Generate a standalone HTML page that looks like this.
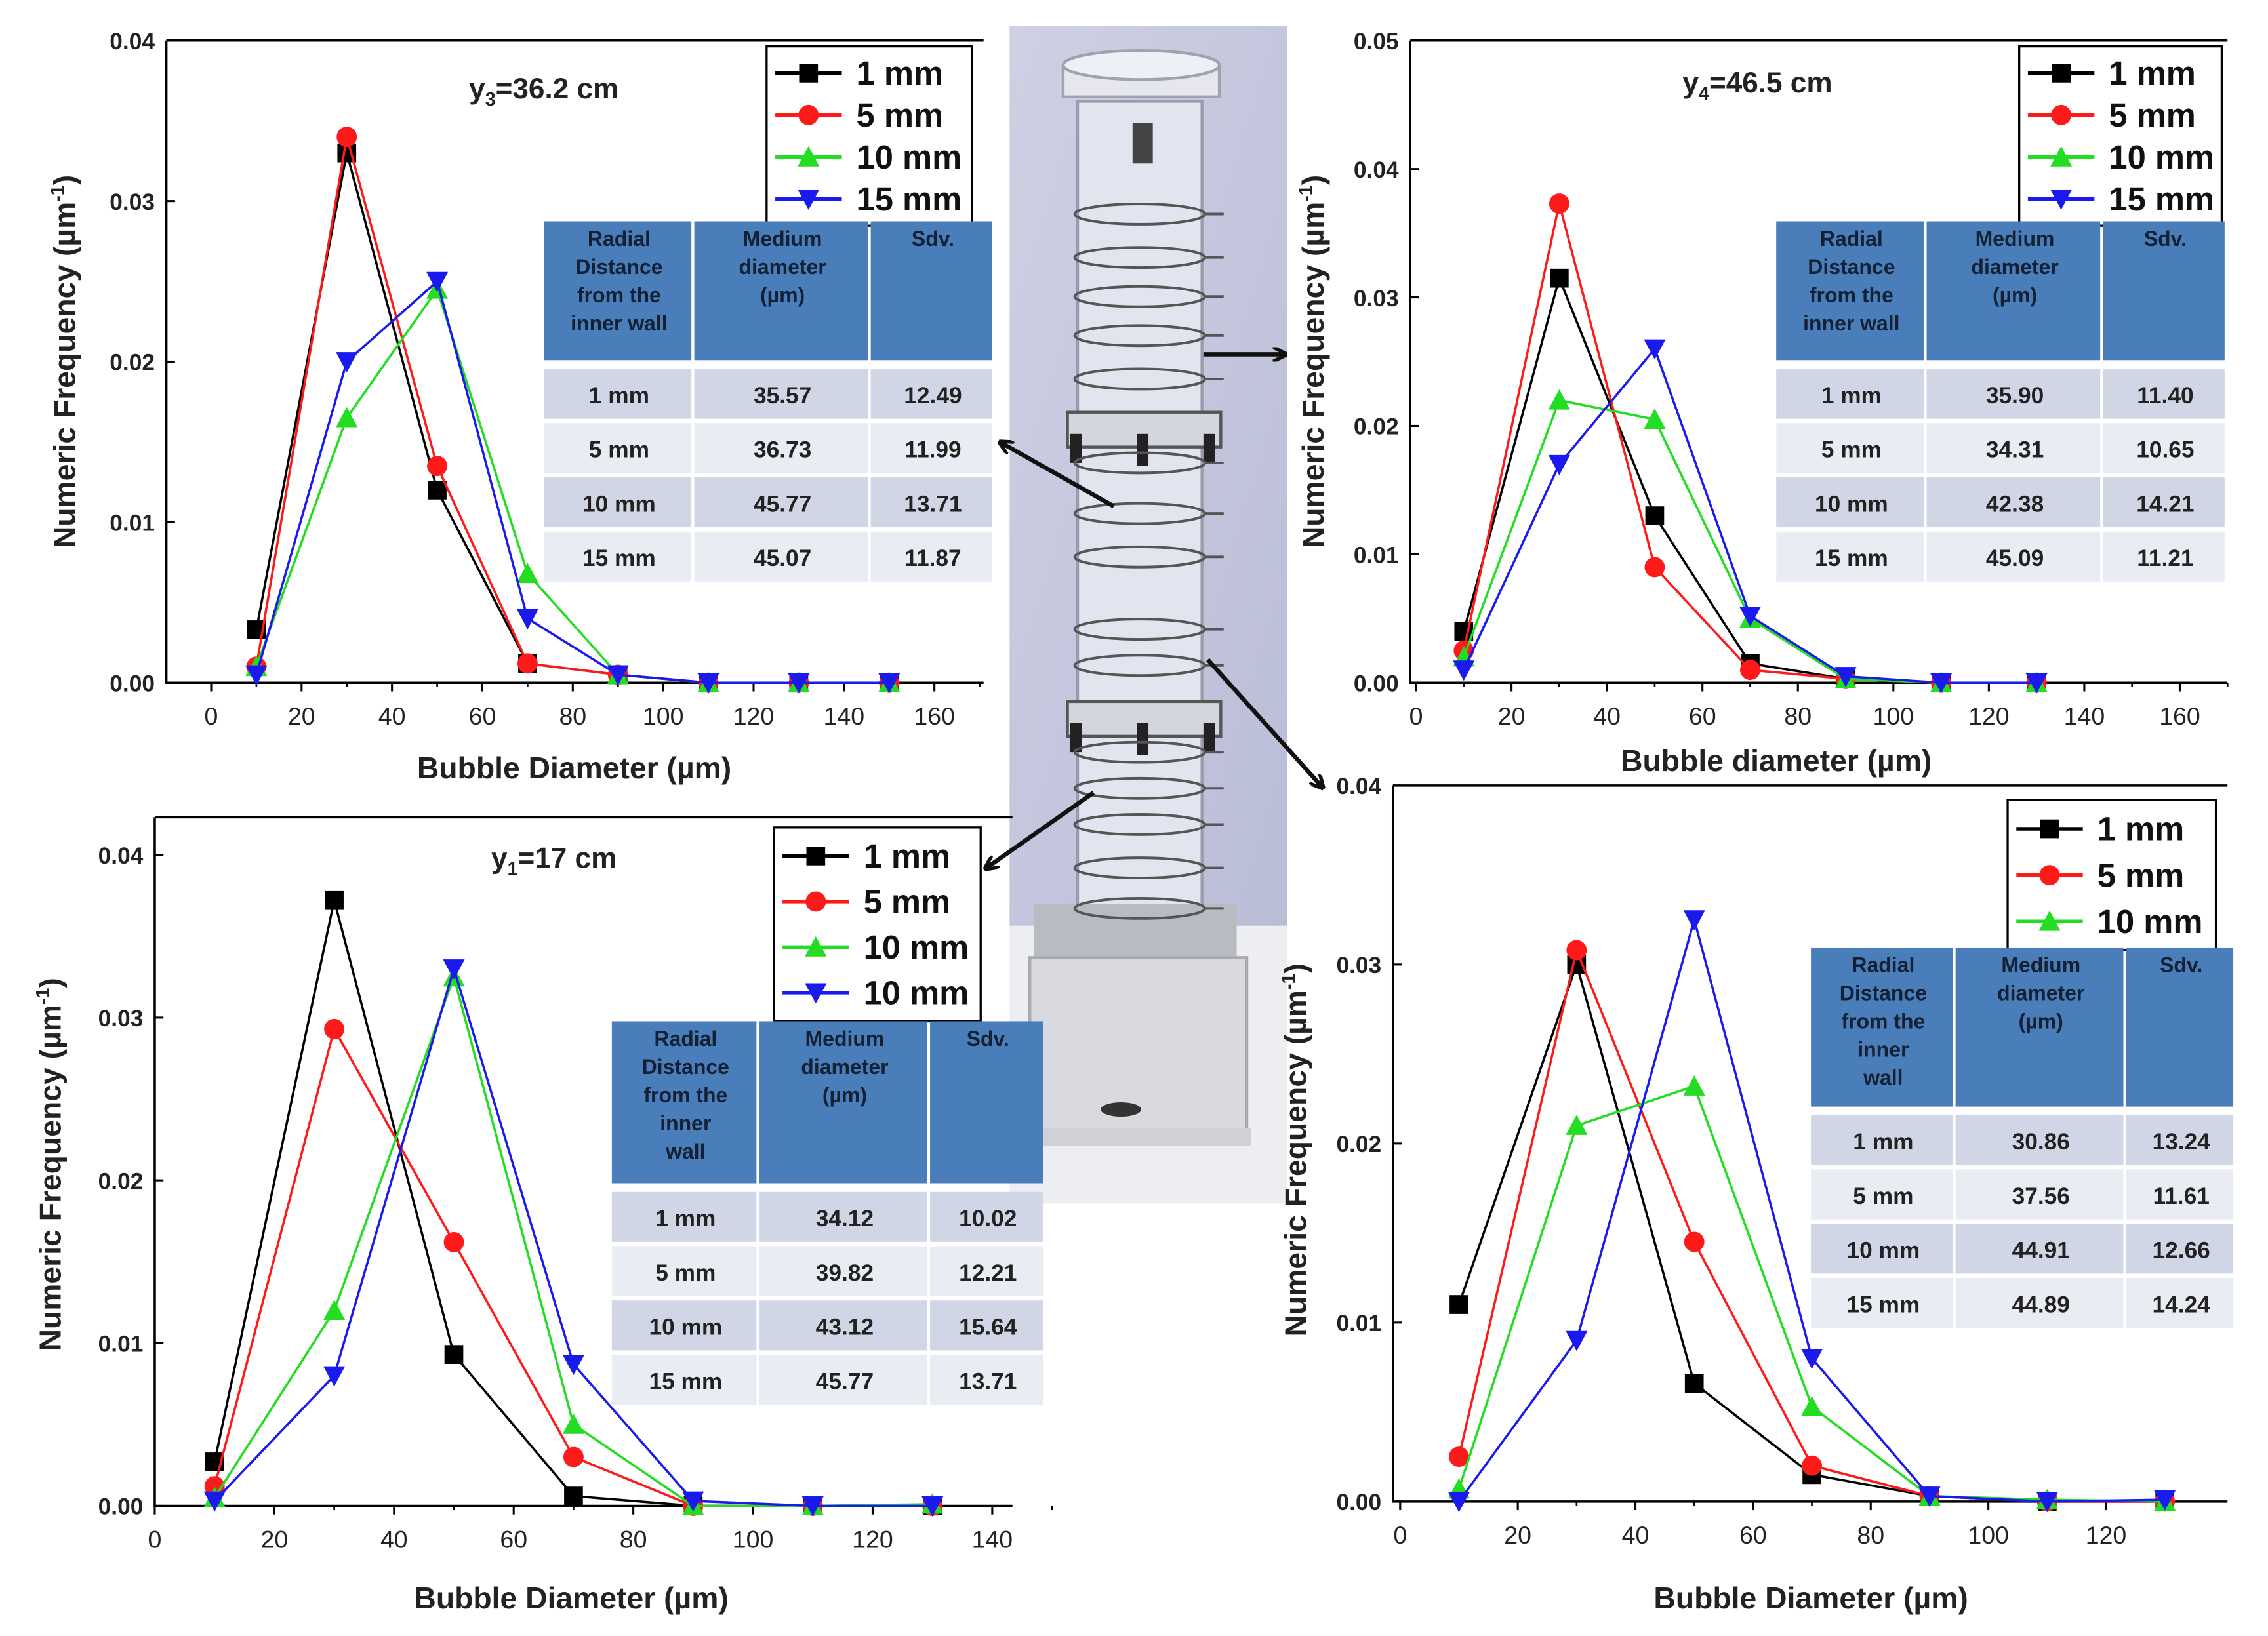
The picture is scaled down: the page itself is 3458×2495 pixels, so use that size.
<!DOCTYPE html>
<html><head><meta charset="utf-8"><style>
html,body{margin:0;padding:0;background:#fff;}
svg{display:block;}
text{font-family:"Liberation Sans",Arial,sans-serif;}
</style></head><body>
<svg id="fig" width="3458" height="2495" viewBox="0 0 1568 1131" preserveAspectRatio="none" xmlns="http://www.w3.org/2000/svg">
<defs>
<linearGradient id="bg" x1="0" y1="0" x2="1" y2="1"><stop offset="0" stop-color="#cfd0e4"/><stop offset="1" stop-color="#b9bdd6"/></linearGradient>
<marker id="ah" markerWidth="10" markerHeight="10" refX="8" refY="5" orient="auto" markerUnits="userSpaceOnUse"><path d="M0,0 L10,5 L0,10" fill="none" stroke="#111" stroke-width="2.5"/></marker>
</defs>
<rect width="1568" height="1131" fill="#fff"/>
<g id="photo">
<rect x="698" y="18" width="192" height="622" fill="url(#bg)"/>
<rect x="698" y="640" width="192" height="192" fill="#eceef2"/>
<rect x="745" y="70" width="86" height="590" fill="#e2e5f0" stroke="#9a9cab" stroke-width="2"/>
<rect x="735" y="45" width="108" height="22" fill="#e6e7ee" stroke="#a0a2b0" stroke-width="2"/>
<ellipse cx="789" cy="45" rx="54" ry="10" fill="#eef0f5" stroke="#a0a2b0" stroke-width="2"/>
<rect x="783" y="85" width="14" height="28" fill="#444"/>
<rect x="738" y="285" width="106" height="24" fill="#d4d6de" stroke="#555" stroke-width="2"/>
<rect x="740" y="300" width="8" height="20" fill="#222"/><rect x="786" y="300" width="8" height="22" fill="#222"/><rect x="832" y="300" width="8" height="20" fill="#222"/>
<rect x="738" y="485" width="106" height="24" fill="#d4d6de" stroke="#555" stroke-width="2"/>
<rect x="740" y="500" width="8" height="20" fill="#222"/><rect x="786" y="500" width="8" height="22" fill="#222"/><rect x="832" y="500" width="8" height="20" fill="#222"/>
<rect x="715" y="625" width="140" height="40" fill="#b9bbc3"/>
<rect x="712" y="662" width="150" height="125" fill="#d8dae0" stroke="#aaa" stroke-width="2"/>
<rect x="705" y="780" width="160" height="12" fill="#cfd1d7"/>
<ellipse cx="775" cy="767" rx="14" ry="5" fill="#333"/>
<g id="coils" fill="none" stroke="#555" stroke-width="1.8"></g>
</g>
<g stroke="#111" stroke-width="3" fill="none">
<line x1="770" y1="350" x2="692" y2="306" marker-end="url(#ah)"/>
<line x1="832" y1="245" x2="888" y2="245" marker-end="url(#ah)"/>
<line x1="756" y1="548" x2="682" y2="600" marker-end="url(#ah)"/>
<line x1="835" y1="456" x2="914" y2="544" marker-end="url(#ah)"/>
</g>
<g id="charts"></g>
</svg>
<script>
// ---- data (top-level arrays) ----
const xValues = [10,30,50,70,90,110,130,150];
const seriesNames = ['1 mm','5 mm','10 mm','15 mm'];
const c1_1mm = [0.0033,0.033,0.012,0.0012,0.0005,0,0,0];
const c1_5mm = [0.001,0.034,0.0135,0.0012,0.0005,0,0,0];
const c1_10mm = [0.001,0.0165,0.0245,0.0068,0.0005,0,0,0];
const c1_15mm = [0.0005,0.020,0.025,0.0040,0.0005,0,0,0];
const c2_1mm = [0.004,0.0315,0.013,0.0015,0.0003,0,0];
const c2_5mm = [0.0025,0.0373,0.009,0.001,0.0003,0,0];
const c2_10mm = [0.002,0.022,0.0205,0.005,0.0003,0,0];
const c2_15mm = [0.001,0.017,0.026,0.0052,0.0005,0,0];
const c3_1mm = [0.0027,0.0372,0.0093,0.0006,0,0,0];
const c3_5mm = [0.0012,0.0293,0.0162,0.003,0,0,0];
const c3_10mm = [0.0005,0.012,0.0325,0.005,0,0,0.0001];
const c3_15mm = [0.0003,0.008,0.033,0.0087,0.0003,0,0];
const c4_1mm = [0.011,0.030,0.0066,0.0015,0.0003,0,0];
const c4_5mm = [0.0025,0.0308,0.0145,0.002,0.0003,0,0];
const c4_10mm = [0.0007,0.021,0.0232,0.0053,0.0003,0.0001,0];
const c4_15mm = [0,0.009,0.0325,0.008,0.0003,0,0.0001];
const c1_xticks = [0,20,40,60,80,100,120,140,160];
const c2_xticks = [0,20,40,60,80,100,120,140,160];
const c3_xticks = [0,20,40,60,80,100,120,140];
const c4_xticks = [0,20,40,60,80,100,120];
const c1_yticks = [0,0.01,0.02,0.03,0.04];
const c2_yticks = [0,0.01,0.02,0.03,0.04,0.05];
const c3_yticks = [0,0.01,0.02,0.03,0.04];
const c4_yticks = [0,0.01,0.02,0.03,0.04];
const t1_rows = [['1 mm','35.57','12.49'],['5 mm','36.73','11.99'],['10 mm','45.77','13.71'],['15 mm','45.07','11.87']];
const t2_rows = [['1 mm','35.90','11.40'],['5 mm','34.31','10.65'],['10 mm','42.38','14.21'],['15 mm','45.09','11.21']];
const t3_rows = [['1 mm','34.12','10.02'],['5 mm','39.82','12.21'],['10 mm','43.12','15.64'],['15 mm','45.77','13.71']];
const t4_rows = [['1 mm','30.86','13.24'],['5 mm','37.56','11.61'],['10 mm','44.91','12.66'],['15 mm','44.89','14.24']];

const NS='http://www.w3.org/2000/svg';
function mk(tag,attrs,parent,txt){const e=document.createElementNS(NS,tag);for(const k in attrs)e.setAttribute(k,attrs[k]);if(txt!==undefined)e.textContent=txt;if(parent)parent.appendChild(e);return e;}

// coils
const coils=document.getElementById('coils');
[148,178,205,232,262,320,355,385,435,460,520,545,570,600,628].forEach(y=>{
  const el=mk('ellipse',{cx:788,cy:y,rx:45,ry:7},coils);
  
  
  const l=mk('line',{x1:833,y1:y,x2:846,y2:y},coils);
  
  
});

const colors=['#000','#ff1a1a','#22dd22','#1a1aee'];
function marker(g,k,x,y){
  const s=6.5;let e;
  if(k===0)e=mk('rect',{x:x-s,y:y-s,width:2*s,height:2*s,fill:colors[0]},g);
  else if(k===1)e=mk('circle',{cx:x,cy:y,r:s+0.5,fill:colors[1]},g);
  else if(k===2)e=mk('polygon',{points:`${x},${y-s-1} ${x+s+1},${y+s} ${x-s-1},${y+s}`,fill:colors[2]},g);
  else e=mk('polygon',{points:`${x-s-1},${y-s} ${x+s+1},${y-s} ${x},${y+s+1}`,fill:colors[3]},g);
  
  
}

function chart(cfg){
  const root=document.getElementById('charts');
  const g=mk('g',{},root);
  
  
  const X=v=>cfg.x0+(v-cfg.xmin)/(cfg.xmax-cfg.xmin)*(cfg.x1-cfg.x0);
  const Y=v=>cfg.y0-(v)/(cfg.ymax)*(cfg.y0-cfg.y1);
  const fr=mk('path',{d:`M${cfg.bl},${cfg.bt} L${cfg.bl},${cfg.y0} L${cfg.br},${cfg.y0} M${cfg.bl},${cfg.bt} L${cfg.br},${cfg.bt}`,stroke:'#000','stroke-width':1.6,fill:'none'},g);
  
  
  const xa=mk('g',{},g);
  
  
  cfg.xticks.forEach(t=>{
    mk('line',{x1:X(t),y1:cfg.y0,x2:X(t),y2:cfg.y0+6,stroke:'#000','stroke-width':1.4},xa);
    mk('line',{x1:X(t+10),y1:cfg.y0,x2:X(t+10),y2:cfg.y0+3,stroke:'#000','stroke-width':1.2},xa);
    const tl=mk('text',{x:X(t),y:cfg.y0+29,'text-anchor':'middle','font-size':17,fill:'#222'},xa,String(t));
    
    
  });
  const ya=mk('g',{},g);
  
  
  cfg.yticks.forEach(t=>{
    mk('line',{x1:cfg.bl,y1:Y(t),x2:cfg.bl+6,y2:Y(t),stroke:'#000','stroke-width':1.4},ya);
    const tl=mk('text',{x:cfg.bl-8,y:Y(t)+6,'text-anchor':'end','font-size':16,'font-weight':'bold',fill:'#222'},ya,t.toFixed(2));
    
    
  });
  const xt=mk('text',{x:cfg.xtx,y:cfg.xty,'text-anchor':'middle','font-size':21,'font-weight':'bold',fill:'#222'},g,cfg.xtitle);
  
  
  const yt=mk('text',{x:0,y:0,transform:`translate(${cfg.ytx},${cfg.yty}) rotate(-90)`,'text-anchor':'middle','font-size':21,'font-weight':'bold',fill:'#222'},g,'Numeric Frequency (µm');
  mk('tspan',{dy:-8,'font-size':13},yt,'-1');
  mk('tspan',{dy:8},yt,')');
  
  
  if(cfg.title){
    const tt=mk('text',{x:cfg.tx,y:cfg.ty,'text-anchor':'middle','font-size':20,'font-weight':'bold',fill:'#222'},g,cfg.title[0]);
    mk('tspan',{'font-size':13,dy:5},tt,cfg.title[1]);
    mk('tspan',{dy:-5},tt,cfg.title[2]);
    
    
  }
  cfg.series.forEach((vals,k)=>{
    const sg=mk('g',{},g);
    
    
    const pts=vals.map((v,i)=>X(xValues[i])+','+Y(v)).join(' ');
    const pl=mk('polyline',{points:pts,fill:'none',stroke:colors[k],'stroke-width':1.6},sg);
    
    
    vals.forEach((v,i)=>marker(sg,k,X(xValues[i]),Y(v)));
  });
  const lg=mk('g',{},g);
  
  
  const n=cfg.legendNames.length;
  mk('rect',{x:cfg.lx,y:cfg.ly,width:cfg.lw,height:cfg.lh*n+8,fill:'#fff',stroke:'#000','stroke-width':1.5},lg);
  cfg.legendNames.forEach((nm,i)=>{
    const yy=cfg.ly+cfg.lh*(i+0.5)+4;
    const k=cfg.legendMarks[i];
    const e=mk('g',{},lg);
    
    
    mk('line',{x1:cfg.lx+6,y1:yy,x2:cfg.lx+52,y2:yy,stroke:colors[k],'stroke-width':2.5},e);
    marker(e,k,cfg.lx+29,yy);
    mk('text',{x:cfg.lx+62,y:yy+8,'font-size':23,'font-weight':'bold',fill:'#111'},e,nm);
  });
  const tg=mk('g',{},g);
  
  
  const cw=cfg.cw, hh=cfg.hh, rh=cfg.rh;
  let cx=cfg.tbx;
  const hdr=cfg.hdr;
  cw.forEach((w,ci)=>{
    mk('rect',{x:cx,y:cfg.tby,width:w-2,height:hh,fill:'#4a7ebb'},tg);
    hdr[ci].forEach((ln,li)=>{
      mk('text',{x:cx+w/2,y:cfg.tby+17+li*19.5,'text-anchor':'middle','font-size':14.5,'font-weight':'bold',fill:'#142033'},tg,ln);
    });
    cx+=w;
  });
  const rows=cfg.rows;
  rows.forEach((r,ri)=>{
    let x=cfg.tbx;const y=cfg.tby+hh+6+ri*rh;
    const row=mk('g',{},tg);
    
    
    cw.forEach((w,ci)=>{
      mk('rect',{x:x,y:y,width:w-2,height:rh-3,fill:ri%2?'#e9ecf3':'#d0d6e6'},row);
      mk('text',{x:x+w/2,y:y+rh/2+5,'text-anchor':'middle','font-size':16,'font-weight':'bold',fill:'#222'},row,r[ci]);
      x+=w;
    });
  });
}
const hdr4=[['Radial','Distance','from the','inner wall'],['Medium','diameter','(µm)'],['Sdv.']];
const hdr5=[['Radial','Distance','from the','inner','wall'],['Medium','diameter','(µm)'],['Sdv.']];

chart({name:'chart-y3',x0:146,x1:646,xmin:0,xmax:160,y0:472,y1:28,ymax:0.04,bl:115,bt:28,br:680,
  xticks:c1_xticks,yticks:c1_yticks,xtitle:'Bubble Diameter (µm)',xtx:397,xty:538,ytx:52,yty:250,
  title:['y','3','=36.2 cm'],tx:376,ty:68,series:[c1_1mm,c1_5mm,c1_10mm,c1_15mm],
  legendNames:seriesNames,legendMarks:[0,1,2,3],lx:530,ly:32,lw:142,lh:29,
  tbx:376,tby:153,cw:[104,122,86],hh:96,rh:37.5,rows:t1_rows,hdr:hdr4});
chart({name:'chart-y4',x0:979,x1:1507,xmin:0,xmax:160,y0:472,y1:28,ymax:0.05,bl:975,bt:28,br:1540,
  xticks:c2_xticks,yticks:c2_yticks,xtitle:'Bubble diameter (µm)',xtx:1228,xty:533,ytx:915,yty:250,
  title:['y','4','=46.5 cm'],tx:1215,ty:64,series:[c2_1mm,c2_5mm,c2_10mm,c2_15mm],
  legendNames:seriesNames,legendMarks:[0,1,2,3],lx:1396,ly:32,lw:140,lh:29,
  tbx:1228,tby:153,cw:[104,122,86],hh:96,rh:37.5,rows:t2_rows,hdr:hdr4});
chart({name:'chart-y1',x0:107,x1:686,xmin:0,xmax:140,y0:1041,y1:591,ymax:0.04,bl:107,bt:565,br:700,
  xticks:c3_xticks,yticks:c3_yticks,xtitle:'Bubble Diameter (µm)',xtx:395,xty:1112,ytx:42,yty:805,
  title:['y','1','=17 cm'],tx:383,ty:600,series:[c3_1mm,c3_5mm,c3_10mm,c3_15mm],
  legendNames:['1 mm','5 mm','10 mm','10 mm'],legendMarks:[0,1,2,3],lx:535,ly:572,lw:143,lh:31.5,
  tbx:423,tby:706,cw:[102,118,80],hh:112,rh:37.5,rows:t3_rows,hdr:hdr5});
chart({name:'chart-bottom-right',x0:968,x1:1456,xmin:0,xmax:120,y0:1038,y1:543,ymax:0.04,bl:963,bt:543,br:1540,
  xticks:c4_xticks,yticks:c4_yticks,xtitle:'Bubble Diameter (µm)',xtx:1252,xty:1112,ytx:903,yty:795,
  title:null,series:[c4_1mm,c4_5mm,c4_10mm,c4_15mm],
  legendNames:['1 mm','5 mm','10 mm'],legendMarks:[0,1,2],lx:1388,ly:553,lw:144,lh:32,
  tbx:1252,tby:655,cw:[100,118,76],hh:110,rh:37.5,rows:t4_rows,hdr:hdr5});
</script>
</body></html>
